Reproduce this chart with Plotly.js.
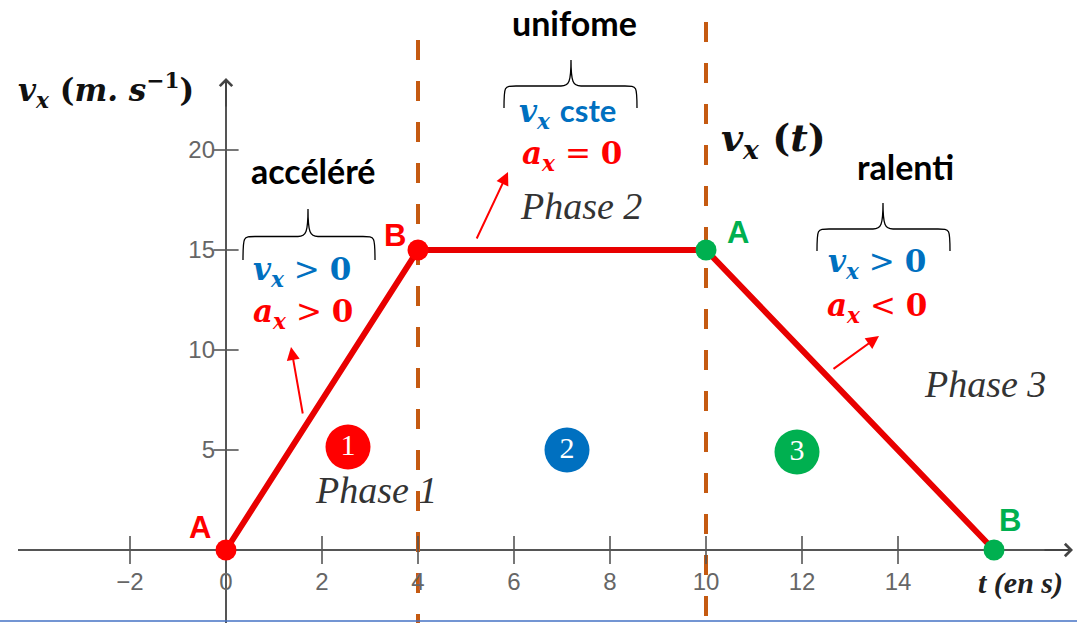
<!DOCTYPE html>
<html><head><meta charset="utf-8">
<script src="https://cdn.plot.ly/plotly-3.0.1.min.js"></script>
<style>html,body{margin:0;padding:0;background:#fff}#chart{width:1077px;height:623px}</style>
</head><body><div id="chart"></div>
<script>
// ---- data ----
const tValues = [0, 4, 10, 16];
const vValues = [0, 15, 15, 0];
const pointLabels = ['A', 'B', 'A', 'B'];
const pointColors = ['#FF0000', '#FF0000', '#00B050', '#00B050'];
const phaseBounds = [4, 10];
const xTickVals = [-2, 0, 2, 4, 6, 8, 10, 12, 14];
const yTickVals = [5, 10, 15, 20];
const phaseNumbers = ['1', '2', '3'];
const phaseColors = ['#FF0000', '#0070C0', '#00B050'];

// ---- pixel helpers (layout only) ----
const W = 1077, H = 623, X0 = 226, Y0 = 550, SX = 48, SY = 20;
const X = p => (p - X0) / SX;
const Y = p => (Y0 - p) / SY;

const mathFont = {family: 'DejaVu Serif', size: 31};
const sansBold = {family: 'Lato', size: 34, color: '#000'};
const BLUE = '#0070C0', RED = '#FF0000', GREEN = '#00B050';

function vx(op, rhs) {
  return '<b><i>v</i><sub><i>x</i></sub></b> ' + op + ' <b>' + rhs + '</b>';
}
function ax(op, rhs) {
  return '<b><i>a</i><sub><i>x</i></sub></b> ' + op + ' <b>' + rhs + '</b>';
}

const traces = [];
// main curve
traces.push({x: tValues, y: vValues, mode: 'lines', line: {color: '#E80000', width: 6}, hoverinfo: 'skip'});
// tick marks crossing axes
traces.push({x: xTickVals, y: xTickVals.map(() => 0), mode: 'markers', hoverinfo: 'skip',
  marker: {symbol: 'line-ns', size: 20, line: {color: '#555', width: 1.6}}});
traces.push({x: yTickVals.map(() => 0), y: yTickVals, mode: 'markers', hoverinfo: 'skip',
  marker: {symbol: 'line-ew', size: 18, line: {color: '#555', width: 1.6}}});
// key points
traces.push({x: tValues, y: vValues, mode: 'markers', hoverinfo: 'skip',
  marker: {color: pointColors, size: 21}});
// phase number circles
const phasePx = [[348, 447], [567, 450], [797, 452]];
traces.push({x: phasePx.map(p => X(p[0])), y: phasePx.map(p => Y(p[1])), mode: 'markers+text',
  text: phaseNumbers, textposition: 'middle center', hoverinfo: 'skip',
  textfont: {family: 'Liberation Serif', size: 30, color: '#fff'},
  marker: {color: phaseColors, size: 45}});

const shapes = [];
// axes lines
shapes.push({type: 'line', xref: 'x', yref: 'y', x0: X(18), x1: X(1068), y0: 0, y1: 0, line: {color: '#555', width: 2}, layer: 'below'});
shapes.push({type: 'line', xref: 'x', yref: 'y', x0: 0, x1: 0, y0: Y(623), y1: Y(82), line: {color: '#555', width: 2}, layer: 'below'});
// phase boundaries
const dashTops = [40, 22];
phaseBounds.forEach((b, i) => {
  shapes.push({type: 'line', xref: 'x', yref: 'y', x0: b, x1: b, y0: Y(dashTops[i]), y1: Y(623),
    line: {color: '#C55A11', width: 4, dash: '20px,21px'}, layer: 'below'});
});
// braces
function brace(l, r, tip, top, bottom) {
  const mid = tip;
  const x = X, y = Y;
  const lvl = (top + bottom) / 2 + 2;
  return {type: 'path', xref: 'x', yref: 'y', line: {color: '#000', width: 1.3},
    path: `M ${x(l)} ${y(bottom)} C ${x(l)} ${y(lvl)}, ${x(l)} ${y(lvl)}, ${x(l + 12)} ${y(lvl)} ` +
          `L ${x(mid - 10)} ${y(lvl)} C ${x(mid - 2)} ${y(lvl)}, ${x(mid)} ${y(lvl - 4)}, ${x(mid)} ${y(top)} ` +
          `M ${x(mid)} ${y(top)} C ${x(mid)} ${y(lvl - 4)}, ${x(mid + 2)} ${y(lvl)}, ${x(mid + 10)} ${y(lvl)} ` +
          `L ${x(r - 12)} ${y(lvl)} C ${x(r)} ${y(lvl)}, ${x(r)} ${y(lvl)}, ${x(r)} ${y(bottom)}`};
}
shapes.push(brace(243, 375, 308, 209, 260));
shapes.push(brace(504, 637, 571, 60, 108));
shapes.push(brace(817, 950, 883, 203, 251));
// bottom slide rule
shapes.push({type: 'line', xref: 'paper', yref: 'paper', x0: 0, x1: 1, y0: 2/H, y1: 2/H, line: {color: '#4472C4', width: 1.5}});

const ann = [];
function txt(px, py, text, font, extra) {
  ann.push(Object.assign({x: X(px), y: Y(py), xref: 'x', yref: 'y', text: text, showarrow: false, font: font,
    xanchor: 'center', yanchor: 'middle'}, extra || {}));
}
// point letters
const letterOffsets = [[-26, -23], [-23, -15], [32, -18], [16, -30]];
tValues.forEach((t, i) => {
  ann.push({x: t, y: vValues[i], xref: 'x', yref: 'y', text: '<b>' + pointLabels[i] + '</b>', showarrow: false,
    xshift: letterOffsets[i][0], yshift: -letterOffsets[i][1],
    font: {family: 'Liberation Sans', size: 31, color: pointColors[i]}});
});
// headings
txt(313, 170, '<b>accéléré</b>', sansBold);
txt(574, 22, '<b>unifome</b>', sansBold);
txt(905, 166, '<b>ralenti</b>', sansBold);
// conditions
txt(302, 271, vx('>', '0'), Object.assign({}, mathFont, {color: BLUE}));
txt(303, 313, ax('>', '0'), Object.assign({}, mathFont, {color: RED}));
txt(567, 112, '<b><i>v</i><sub><i>x</i></sub></b> <span style="font-family:Lato"><b>cste</b></span>', Object.assign({}, mathFont, {color: BLUE}));
txt(572, 155, ax('=', '0'), Object.assign({}, mathFont, {color: RED}));
txt(877, 263, vx('>', '0'), Object.assign({}, mathFont, {color: BLUE}));
txt(877, 307, ax('<', '0'), Object.assign({}, mathFont, {color: RED}));
// phase labels
const phaseFont = {family: 'Liberation Serif', size: 38, color: '#333'};
txt(376, 490, '<i>Phase 1</i>', phaseFont);
txt(581, 206, '<i>Phase 2</i>', phaseFont);
txt(985, 384, '<i>Phase 3</i>', phaseFont);
// curve title
txt(773, 140, '<b><i>v</i><sub><i>x</i></sub> (<i>t</i>)</b>', {family: 'DejaVu Serif', size: 38, color: '#111'});
// axis titles
txt(106, 90, '<b><i>v</i><sub><i>x</i></sub> (<i>m. s</i><sup>−1</sup>)</b>', {family: 'DejaVu Serif', size: 31, color: '#111'});
txt(1020, 583, '<b><i>t (en s)</i></b>', {family: 'Liberation Serif', size: 30, color: '#222'});
// arrows
function arrow(tx, ty, hx, hy) {
  ann.push({x: X(hx), y: Y(hy), xref: 'x', yref: 'y', ax: tx - hx, ay: ty - hy, axref: 'pixel', ayref: 'pixel',
    showarrow: true, arrowhead: 2, arrowsize: 1.3, arrowwidth: 2, arrowcolor: RED, text: ''});
}
arrow(303, 415, 291, 347);
arrow(476, 240, 508, 172);
arrow(832, 370, 879, 336);
// axis arrowheads
ann.push({x: X(1073), y: 0, xref: 'x', yref: 'y', ax: -30, ay: 0, showarrow: true, arrowhead: 4, arrowsize: 1.2, arrowwidth: 2, arrowcolor: '#444', text: ''});
ann.push({x: 0, y: Y(78), xref: 'x', yref: 'y', ax: 0, ay: 30, showarrow: true, arrowhead: 4, arrowsize: 1.2, arrowwidth: 2, arrowcolor: '#444', text: ''});

const layout = {
  width: W, height: H, margin: {l: 0, r: 0, t: 0, b: 0}, showlegend: false,
  paper_bgcolor: '#fff', plot_bgcolor: '#fff',
  xaxis: {range: [X(0), X(W)], showgrid: false, zeroline: false, showline: false,
    tickvals: xTickVals, ticktext: xTickVals.map(v => v < 0 ? '−' + Math.abs(v) : String(v)),
    ticks: '', anchor: 'free', position: (H - Y0) / H, ticklabelstandoff: 15,
    tickfont: {family: 'Liberation Sans', size: 24, color: '#666'}, fixedrange: true},
  yaxis: {range: [Y(H), Y(0)], showgrid: false, zeroline: false, showline: false,
    tickvals: yTickVals, ticks: '', anchor: 'free', position: X0 / W, ticklabelstandoff: 11,
    tickfont: {family: 'Liberation Sans', size: 24, color: '#666'}, fixedrange: true},
  shapes: shapes, annotations: ann
};
Plotly.newPlot('chart', traces, layout, {displayModeBar: false, staticPlot: true});
</script></body></html>
